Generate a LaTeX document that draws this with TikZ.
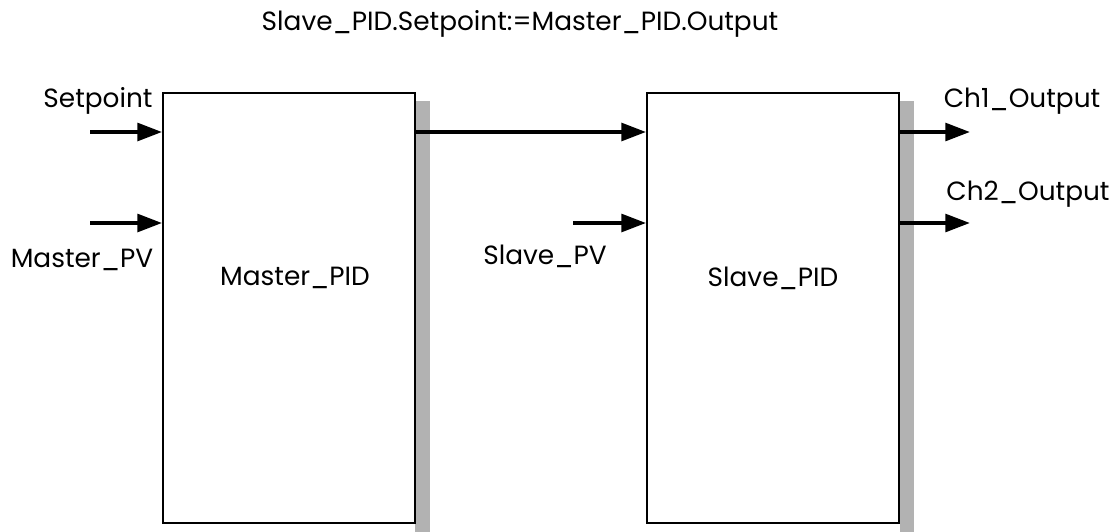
\documentclass[tikz,border=0pt]{standalone}
\usepackage{fontspec}
\setmainfont{Poppins}
\usetikzlibrary{arrows.meta}

\begin{document}
\begin{tikzpicture}[x=0.02cm, y=-0.02cm,
    block/.style={draw, line width=1.1pt, fill=white, minimum width=5.04cm, minimum height=8.6cm, inner sep=0pt},
    shade/.style={fill=gray!60},
    sig/.style={line width=2.2pt, -{Triangle[length=14pt, width=10pt]}},
    lbl/.style={font=\fontsize{15}{18}\selectfont, inner sep=0pt}]
    \useasboundingbox (0,0) rectangle (1119,531);

    % Title
    \node[lbl] (title) at (520,24) {Slave\_PID.Setpoint:=Master\_PID.Output};

    % Shadows behind the blocks
    \fill[shade] (415,101) rectangle (430,545);
    \fill[shade] (900,101) rectangle (914,545);

    % Blocks
    \node[block] (master) at (289,308) {};
    \node[block] (slave) at (773,308) {};
    \node[lbl] (mastertxt) at (295,278) {Master\_PID};
    \node[lbl] (slavetxt) at (773,278) {Slave\_PID};

    % Free ends of the signals
    \coordinate (sp) at (90,132);
    \coordinate (mpv) at (90,223);
    \coordinate (spv) at (573,223);
    \coordinate (ch1) at (970,132);
    \coordinate (ch2) at (970,223);

    % Signals
    \draw[sig] (sp) -- (master.west |- sp);
    \draw[sig] (mpv) -- (master.west |- mpv);
    \draw[sig] (master.east |- sp) -- (slave.west |- sp);
    \draw[sig] (spv) -- (slave.west |- spv);
    \draw[sig] (slave.east |- ch1) -- (ch1);
    \draw[sig] (slave.east |- ch2) -- (ch2);

    % Signal names
    \node[lbl] (sptxt) at (98,101) {Setpoint};
    \node[lbl] (mpvtxt) at (82,260) {Master\_PV};
    \node[lbl] (spvtxt) at (545,256) {Slave\_PV};
    \node[lbl] (ch1txt) at (1022,101) {Ch1\_Output};
    \node[lbl] (ch2txt) at (1028,194) {Ch2\_Output};
\end{tikzpicture}
\end{document}
